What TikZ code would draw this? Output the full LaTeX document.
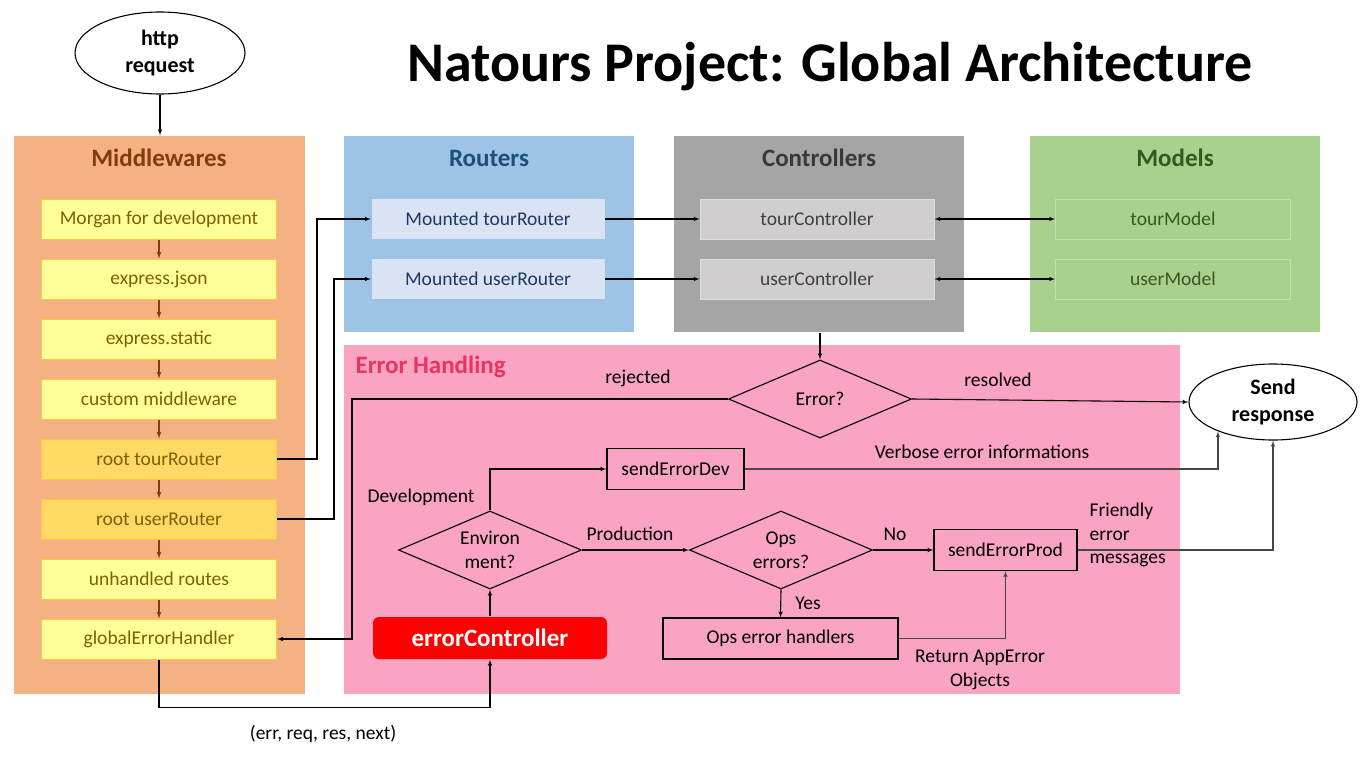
\documentclass[tikz,border=0pt]{standalone}
\usepackage{fontspec}
\setmainfont{Carlito}
\usepackage{xcolor}
\usepackage{tikz}
\usetikzlibrary{shapes,arrows,positioning}

\definecolor{mwpanel}{RGB}{244,177,131}
\definecolor{mwtitle}{RGB}{132,60,12}
\definecolor{mwyellow}{RGB}{255,255,153}
\definecolor{mwroot}{RGB}{255,217,102}
\definecolor{mwedge}{RGB}{255,200,60}
\definecolor{mwtext}{RGB}{127,96,0}
\definecolor{rtpanel}{RGB}{157,195,230}
\definecolor{rttitle}{RGB}{31,78,121}
\definecolor{rtbox}{RGB}{218,227,243}
\definecolor{rttext}{RGB}{31,56,100}
\definecolor{ctpanel}{RGB}{165,165,165}
\definecolor{cttitle}{RGB}{59,56,56}
\definecolor{ctbox}{RGB}{208,206,206}
\definecolor{cttext}{RGB}{64,64,64}
\definecolor{mdpanel}{RGB}{169,209,142}
\definecolor{mdedge}{RGB}{197,224,180}
\definecolor{mdtext}{RGB}{56,87,35}
\definecolor{erpanel}{RGB}{250,163,195}
\definecolor{ertitle}{RGB}{233,52,96}
\definecolor{greyline}{RGB}{70,70,70}

\begin{document}
\begin{tikzpicture}[x=1pt, y=-1pt, node distance=60pt, line width=1.1pt, font=\fontsize{19.5}{23.5}\selectfont]
  \tikzstyle{panel} = [rectangle, inner sep=0pt]
  \tikzstyle{paneltitle} = [font=\fontsize{25}{30}\selectfont\bfseries]
  \tikzstyle{mwbox} = [rectangle, draw=mwedge, fill=mwyellow, text=mwtext, minimum width=235pt, minimum height=40pt, line width=1pt]
  \tikzstyle{routebox} = [rectangle, fill=rtbox, text=rttext, minimum width=233pt, minimum height=40pt]
  \tikzstyle{ctrlbox} = [rectangle, draw=ctbox!70!white, fill=ctbox, text=cttext, minimum width=234pt, minimum height=40pt, line width=0.6pt]
  \tikzstyle{modelbox} = [rectangle, draw=mdedge, fill=mdpanel, text=mdtext, minimum width=235pt, minimum height=40pt, line width=0.6pt]
  \tikzstyle{decision} = [diamond, draw, aspect=2.35, minimum width=183pt, minimum height=78pt, inner sep=0pt, align=center]
  \tikzstyle{block} = [rectangle, draw, minimum height=41pt]
  \tikzstyle{cloud} = [ellipse, draw, fill=white, align=center, font=\fontsize{22}{27}\selectfont\bfseries]
  \tikzstyle{edgetext} = [inner sep=0pt, align=center]
  \tikzstyle{line} = [draw, -latex']
  \tikzstyle{dline} = [draw, latex'-latex']
  \tikzstyle{mwline} = [draw=mwtitle, -latex', line width=1.3pt]

  \fill [white] (0,0) rectangle (1366,768);
  \useasboundingbox (0,0) rectangle (1366,768);

  \node [font=\fontsize{56}{60}\selectfont\bfseries] (title) at (830,67) {Natours Project: Global Architecture};

  \node [panel, fill=mwpanel, minimum width=291pt, minimum height=558pt] (mwarea) at (159.5,415) {};
  \node [panel, fill=rtpanel, minimum width=290pt, minimum height=196pt] (rtarea) at (489,234) {};
  \node [panel, fill=ctpanel, minimum width=290pt, minimum height=196pt] (ctarea) at (819,234) {};
  \node [panel, fill=mdpanel, minimum width=290pt, minimum height=196pt] (mdarea) at (1175,234) {};
  \node [panel, fill=erpanel, minimum width=836pt, minimum height=349pt] (erarea) at (762,519.5) {};

  \node [paneltitle, text=mwtitle] (mwhead) at (159,158) {Middlewares};
  \node [paneltitle, text=rttitle] (rthead) at (489,158) {Routers};
  \node [paneltitle, text=cttitle] (cthead) at (819,158) {Controllers};
  \node [paneltitle, text=mdtext] (mdhead) at (1175,158) {Models};
  \node [paneltitle, text=ertitle, anchor=west, inner sep=0pt] (erhead) at (355,367) {Error Handling};

  \node [cloud, minimum width=170pt, minimum height=82pt] (http) at (160,53) {http\\request};
  \node [cloud, minimum width=168pt, minimum height=76pt] (send) at (1273,402) {Send\\response};

  \node [mwbox] (morgan) at (159,219) {Morgan for development};
  \node [mwbox, below of=morgan] (json) {express.json};
  \node [mwbox, below of=json] (static) {express.static};
  \node [mwbox, below of=static] (custom) {custom middleware};
  \node [mwbox, fill=mwroot, below of=custom] (roottour) {root tourRouter};
  \node [mwbox, fill=mwroot, below of=roottour] (rootuser) {root userRouter};
  \node [mwbox, below of=rootuser] (unhandled) {unhandled routes};
  \node [mwbox, below of=unhandled] (geh) {globalErrorHandler};

  \node [routebox] (mtour) at (488,219) {Mounted tourRouter};
  \node [routebox, below of=mtour] (muser) {Mounted userRouter};
  \node [ctrlbox] (ctour) at (817,219) {tourController};
  \node [ctrlbox, below of=ctour] (cuser) {userController};
  \node [modelbox] (mdtour) at (1173,219) {tourModel};
  \node [modelbox, below of=mdtour] (mduser) {userModel};

  \node [decision] (errq) at (820,399) {Error?};
  \node [decision] (env) at (490,550) {Environ\\ment?};
  \node [decision] (ops) at (781,550) {Ops\\errors?};
  \node [rectangle, rounded corners=6pt, fill=red, text=white, font=\fontsize{25}{30}\selectfont\bfseries, minimum width=234pt, minimum height=42pt] (errctrl) at (490,638) {errorController};
  \node [block, minimum width=137pt] (dev) at (675.5,469) {sendErrorDev};
  \node [block, minimum width=143pt] (prod) at (1005.5,550) {sendErrorProd};
  \node [block, minimum width=235pt] (opsh) at (780.5,638.5) {Ops error handlers};
  \coordinate (rejbend) at (352,399);

  \node [edgetext] (rejtext) at (638,378) {rejected};
  \node [edgetext] (restext) at (998,380) {resolved};
  \node [edgetext] (devtext) at (421,497) {Development};
  \node [edgetext] (verbtext) at (982,452) {Verbose error informations};
  \node [edgetext] (prodtext) at (630,534) {Production};
  \node [edgetext] (notext) at (895,534) {No};
  \node [edgetext] (yestext) at (808,603) {Yes};
  \node [edgetext, align=left, anchor=west] (friendtext) at (1089,535) {Friendly\\error\\messages};
  \node [edgetext] (apptext) at (980,670) {Return AppError\\Objects};
  \node [edgetext] (argtext) at (323,734) {(err, req, res, next)};

  \path [line] (http.south) -- (http.south |- mwarea.north);
  \path [mwline] (morgan) -- (json);
  \path [mwline] (json) -- (static);
  \path [mwline] (static) -- (custom);
  \path [mwline] (custom) -- (roottour);
  \path [mwline] (roottour) -- (rootuser);
  \path [mwline] (rootuser) -- (unhandled);
  \path [mwline] (unhandled) -- (geh);

  \path [line] (roottour.east) -- ++(40,0) |- (mtour.west);
  \path [line] (rootuser.east) -- ++(57,0) |- (muser.west);
  \path [line] (mtour.east) -- (ctour.west);
  \path [line] (muser.east) -- (cuser.west);
  \path [dline] (ctour.east) -- (mdtour.west);
  \path [dline] (cuser.east) -- (mduser.west);

  \path [line] (errq.north |- ctarea.south) -- (errq.north);
  \path [line] (errq.west) -- (rejbend) |- (geh.east);
  \path [line] (errq.east) -- (send.west);
  \path [line] (geh.south) -- ++(0,48) -| (errctrl.south);
  \path [line] (errctrl.north) -- (env.south);
  \path [line] (env.north) |- (dev.west);
  \path [line, draw=greyline] (dev.east) -| (send.-152);
  \path [line] (env.east) -- (ops.west);
  \path [line] (ops.east) -- (prod.west);
  \path [line] (ops.south) -- (opsh.north);
  \path [line, draw=greyline] (opsh.east) -| (prod.south);
  \path [line, draw=greyline] (prod.east) -| (send.south);
\end{tikzpicture}
\end{document}
